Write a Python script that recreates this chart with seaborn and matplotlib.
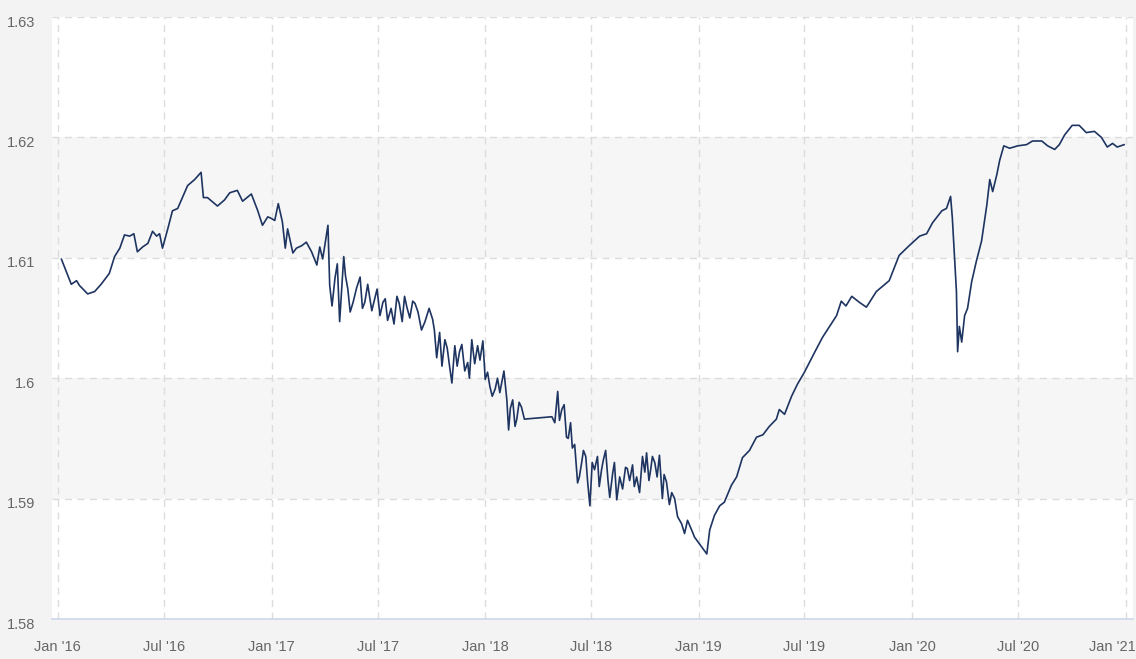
import matplotlib
matplotlib.use("Agg")
import matplotlib.pyplot as plt
import matplotlib.transforms as mtransforms
import seaborn as sns
import pandas as pd

# values
dates = [
    "2016-01-07", "2016-01-24", "2016-02-02", "2016-02-07", "2016-02-21", "2016-03-04",
    "2016-03-15", "2016-03-29", "2016-04-07", "2016-04-16", "2016-04-24", "2016-05-03",
    "2016-05-10", "2016-05-16", "2016-05-25", "2016-06-03", "2016-06-11", "2016-06-18",
    "2016-06-23", "2016-06-28", "2016-07-07", "2016-07-15", "2016-07-24", "2016-08-01",
    "2016-08-10", "2016-08-22", "2016-09-02", "2016-09-06", "2016-09-13", "2016-09-30",
    "2016-10-12", "2016-10-21", "2016-11-03", "2016-11-12", "2016-11-27", "2016-12-08",
    "2016-12-16", "2016-12-25", "2016-12-30", "2017-01-06", "2017-01-12", "2017-01-19",
    "2017-01-24", "2017-01-28", "2017-02-06", "2017-02-12", "2017-02-21", "2017-03-01",
    "2017-03-10", "2017-03-19", "2017-03-24", "2017-03-29", "2017-04-07", "2017-04-10",
    "2017-04-14", "2017-04-19", "2017-04-23", "2017-04-27", "2017-05-04", "2017-05-07",
    "2017-05-11", "2017-05-15", "2017-05-20", "2017-05-26", "2017-06-01", "2017-06-05",
    "2017-06-09", "2017-06-14", "2017-06-21", "2017-06-30", "2017-07-05", "2017-07-10",
    "2017-07-14", "2017-07-18", "2017-07-24", "2017-07-29", "2017-08-03", "2017-08-07",
    "2017-08-12", "2017-08-16", "2017-08-20", "2017-08-25", "2017-08-30", "2017-09-03",
    "2017-09-08", "2017-09-14", "2017-09-20", "2017-09-27", "2017-10-03", "2017-10-06",
    "2017-10-10", "2017-10-15", "2017-10-19", "2017-10-24", "2017-10-28", "2017-11-01",
    "2017-11-05", "2017-11-10", "2017-11-14", "2017-11-18", "2017-11-22", "2017-11-27",
    "2017-12-02", "2017-12-05", "2017-12-09", "2017-12-14", "2017-12-19", "2017-12-23",
    "2017-12-28", "2018-01-01", "2018-01-05", "2018-01-09", "2018-01-13", "2018-01-18",
    "2018-01-22", "2018-01-26", "2018-02-02", "2018-02-07", "2018-02-10", "2018-02-13",
    "2018-02-17", "2018-02-21", "2018-02-24", "2018-02-28", "2018-03-04", "2018-03-09",
    "2018-04-25", "2018-04-30", "2018-05-05", "2018-05-08", "2018-05-12", "2018-05-16",
    "2018-05-20", "2018-05-23", "2018-05-27", "2018-05-30", "2018-06-03", "2018-06-08",
    "2018-06-11", "2018-06-15", "2018-06-18", "2018-06-22", "2018-06-25", "2018-06-29",
    "2018-07-03", "2018-07-07", "2018-07-12", "2018-07-15", "2018-07-19", "2018-07-22",
    "2018-07-26", "2018-07-30", "2018-08-02", "2018-08-07", "2018-08-10", "2018-08-14",
    "2018-08-19", "2018-08-24", "2018-08-29", "2018-09-01", "2018-09-05", "2018-09-10",
    "2018-09-13", "2018-09-17", "2018-09-22", "2018-09-27", "2018-10-01", "2018-10-04",
    "2018-10-08", "2018-10-11", "2018-10-14", "2018-10-18", "2018-10-22", "2018-10-26",
    "2018-10-31", "2018-11-03", "2018-11-07", "2018-11-12", "2018-11-16", "2018-11-21",
    "2018-11-26", "2018-12-03", "2018-12-08", "2018-12-13", "2018-12-20", "2018-12-25",
    "2019-01-15", "2019-01-20", "2019-01-28", "2019-02-06", "2019-02-14", "2019-02-26",
    "2019-03-07", "2019-03-17", "2019-03-29", "2019-04-10", "2019-04-21", "2019-05-02",
    "2019-05-14", "2019-05-19", "2019-05-28", "2019-06-09", "2019-06-19", "2019-07-01",
    "2019-07-19", "2019-08-01", "2019-08-13", "2019-08-25", "2019-09-02", "2019-09-10",
    "2019-09-20", "2019-10-03", "2019-10-15", "2019-11-01", "2019-11-23", "2019-12-10",
    "2019-12-27", "2020-01-14", "2020-01-26", "2020-02-05", "2020-02-21", "2020-02-29",
    "2020-03-07", "2020-03-10", "2020-03-17", "2020-03-19", "2020-03-22", "2020-03-26",
    "2020-03-31", "2020-04-05", "2020-04-12", "2020-04-20", "2020-04-29", "2020-05-08",
    "2020-05-13", "2020-05-18", "2020-05-25", "2020-05-30", "2020-06-06", "2020-06-16",
    "2020-06-30", "2020-07-15", "2020-07-25", "2020-08-10", "2020-08-20", "2020-09-01",
    "2020-09-09", "2020-09-18", "2020-10-01", "2020-10-13", "2020-10-25", "2020-11-08",
    "2020-11-20", "2020-11-30", "2020-12-09", "2020-12-17", "2020-12-29",
]
values = [
    1.6099, 1.6078, 1.6081, 1.6077, 1.6070, 1.6072,
    1.6078, 1.6087, 1.6101, 1.6108, 1.6119, 1.6118,
    1.6120, 1.6105, 1.6109, 1.6112, 1.6122, 1.6118,
    1.6120, 1.6108, 1.6124, 1.6139, 1.6141, 1.6150,
    1.6160, 1.6165, 1.6171, 1.6150, 1.6150, 1.6143,
    1.6148, 1.6154, 1.6156, 1.6147, 1.6153, 1.6139,
    1.6127, 1.6134, 1.6133, 1.6131, 1.6145, 1.6130,
    1.6108, 1.6124, 1.6104, 1.6108, 1.6110, 1.6113,
    1.6105, 1.6094, 1.6109, 1.6099, 1.6127, 1.6077,
    1.6060, 1.6083, 1.6095, 1.6047, 1.6101, 1.6085,
    1.6074, 1.6055, 1.6063, 1.6075, 1.6084, 1.6058,
    1.6063, 1.6078, 1.6056, 1.6074, 1.6052, 1.6063,
    1.6066, 1.6048, 1.6058, 1.6045, 1.6068, 1.6062,
    1.6047, 1.6068, 1.6059, 1.6050, 1.6064, 1.6062,
    1.6055, 1.6040, 1.6047, 1.6058, 1.6049, 1.6040,
    1.6017, 1.6038, 1.6010, 1.6032, 1.6025, 1.6010,
    1.5996, 1.6027, 1.6010, 1.6022, 1.6028, 1.6006,
    1.6013, 1.6000, 1.6032, 1.6012, 1.6027, 1.6015,
    1.6031, 1.5999, 1.6005, 1.5993, 1.5985, 1.5991,
    1.6000, 1.5988, 1.6006, 1.5982, 1.5957, 1.5975,
    1.5982, 1.5960, 1.5966, 1.5980, 1.5976, 1.5966,
    1.5968, 1.5963, 1.5989, 1.5965, 1.5974, 1.5978,
    1.5951, 1.5950, 1.5963, 1.5942, 1.5945, 1.5913,
    1.5918, 1.5930, 1.5940, 1.5935, 1.5915, 1.5894,
    1.5930, 1.5924, 1.5935, 1.5910, 1.5924, 1.5932,
    1.5940, 1.5915, 1.5901, 1.5921, 1.5930, 1.5899,
    1.5918, 1.5908, 1.5926, 1.5925, 1.5915, 1.5928,
    1.5910, 1.5918, 1.5905, 1.5935, 1.5922, 1.5938,
    1.5915, 1.5924, 1.5935, 1.5930, 1.5918, 1.5936,
    1.5900, 1.5920, 1.5914, 1.5895, 1.5905, 1.5900,
    1.5885, 1.5879, 1.5871, 1.5882, 1.5874, 1.5868,
    1.5854, 1.5874, 1.5886, 1.5894, 1.5897, 1.5911,
    1.5918, 1.5934, 1.5940, 1.5951, 1.5953, 1.5960,
    1.5966, 1.5974, 1.5970, 1.5985, 1.5995, 1.6005,
    1.6022, 1.6034, 1.6043, 1.6052, 1.6064, 1.6060,
    1.6068, 1.6063, 1.6059, 1.6072, 1.6081, 1.6102,
    1.6110, 1.6118, 1.6120, 1.6129, 1.6139, 1.6141,
    1.6151, 1.6133, 1.6072, 1.6022, 1.6043, 1.6030,
    1.6052, 1.6058, 1.6080, 1.6097, 1.6114, 1.6144,
    1.6165, 1.6155, 1.6169, 1.6181, 1.6193, 1.6191,
    1.6193, 1.6194, 1.6197, 1.6197, 1.6193, 1.6190,
    1.6194, 1.6202, 1.6210, 1.6210, 1.6204, 1.6205,
    1.6200, 1.6192, 1.6195, 1.6192, 1.6194,
]

y_ticks = [1.58, 1.59, 1.60, 1.61, 1.62, 1.63]
y_labels = ["1.58", "1.59", "1.6", "1.61", "1.62", "1.63"]
x_ticks = ["2016-01-01", "2016-07-01", "2017-01-01", "2017-07-01", "2018-01-01", "2018-07-01",
           "2019-01-01", "2019-07-01", "2020-01-01", "2020-07-01", "2021-01-01"]
x_labels = ["Jan '16", "Jul '16", "Jan '17", "Jul '17", "Jan '18", "Jul '18",
            "Jan '19", "Jul '19", "Jan '20", "Jul '20", "Jan '21"]

df = pd.DataFrame({"date": pd.to_datetime(dates), "value": values}).sort_values("date")

sns.set_style("white")
plt.rcParams["font.family"] = ["Liberation Sans Narrow", "Liberation Sans", "DejaVu Sans"]

fig = plt.figure(figsize=(11.36, 6.59), dpi=100, facecolor="#f3f3f3")
ax = fig.add_axes([52 / 1136, 1 - 619 / 659, (1133 - 52) / 1136, (619 - 17) / 659])
ax.set_facecolor("white")

# alternating bands
for lo in [1.59, 1.61]:
    ax.axhspan(lo, lo + 0.01, color="#f6f6f6", zorder=0, lw=0)

sns.lineplot(data=df, x="date", y="value", ax=ax, color="#1e3461", lw=1.2, zorder=3)

ax.set_ylim(1.58, 1.63)
ax.set_xlim(pd.Timestamp("2015-12-22"), pd.Timestamp("2021-01-13"))

ax.set_yticks(y_ticks)
ax.set_yticklabels(y_labels)
ax.set_xticks(pd.to_datetime(x_ticks))
ax.set_xticklabels(x_labels)

for y in y_ticks[1:]:
    ax.axhline(y, color="#dcdcdc", lw=1, ls=(0, (5, 4)), zorder=1)
for x in pd.to_datetime(x_ticks):
    ax.axvline(x, color="#dcdcdc", lw=1, ls=(0, (5, 4)), zorder=1)

for s in ["top", "right", "left"]:
    ax.spines[s].set_visible(False)
ax.spines["bottom"].set_color("#ccd6eb")
ax.spines["bottom"].set_linewidth(1.2)

ax.tick_params(axis="x", length=7, color="#ccd6eb", width=1, pad=8, labelsize=10.5, labelcolor="#666666")
ax.tick_params(axis="y", length=0, pad=12, labelsize=10.5, labelcolor="#666666")
ax.set_xlabel("")
ax.set_ylabel("")

offset = mtransforms.ScaledTranslation(0, -3 / 72, fig.dpi_scale_trans)
for lab in ax.get_yticklabels():
    lab.set_transform(lab.get_transform() + offset)

# keep the last date label inside the figure, as the original does
last = ax.get_xticklabels()[-1]
last.set_transform(last.get_transform() + mtransforms.ScaledTranslation(-10 / 72, 0, fig.dpi_scale_trans))

fig.savefig("out.png", dpi=100, facecolor=fig.get_facecolor())
